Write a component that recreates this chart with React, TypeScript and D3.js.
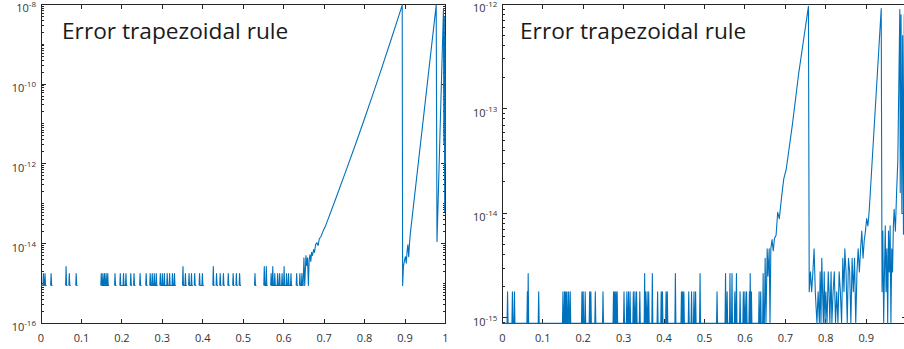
import React from 'react';
import * as d3 from 'd3';

// ---------- data ----------
const TITLE = 'Error trapezoidal rule';
const X_TICKS = [0, 0.1, 0.2, 0.3, 0.4, 0.5, 0.6, 0.7, 0.8, 0.9, 1];
const X_TICK_LABELS = ['0', '0.1', '0.2', '0.3', '0.4', '0.5', '0.6', '0.7', '0.8', '0.9', '1'];
const LEFT_Y_DOMAIN = [1e-16, 1e-8];
const RIGHT_Y_DOMAIN = [8.88e-16, 1e-12];
const LEFT_Y_LABEL_EXPS = [-8, -10, -12, -14, -16];
const RIGHT_Y_LABEL_EXPS = [-12, -13, -14, -15];

// log10 of the error level at the rounding floor
const FLOOR_EXP = -15.0516;

// left panel: noise spikes (x, log10 error)
const LEFT_SPIKE_X = [0.006, 0.010, 0.025, 0.062, 0.070, 0.087, 0.149, 0.153, 0.157, 0.161, 0.165, 0.183, 0.196, 0.204, 0.210, 0.222, 0.230, 0.245, 0.260, 0.270, 0.275, 0.280, 0.285, 0.295, 0.300, 0.305, 0.312, 0.318, 0.325, 0.330, 0.351, 0.357, 0.366, 0.372, 0.380, 0.392, 0.399, 0.426, 0.434, 0.443, 0.451, 0.463, 0.475, 0.483, 0.491, 0.529, 0.552, 0.557, 0.569, 0.573, 0.578, 0.585, 0.590, 0.596, 0.601, 0.607, 0.612, 0.618, 0.632, 0.640, 0.645];
const LEFT_SPIKE_EXP = [-14.75, -14.75, -14.75, -14.575, -14.75, -14.75, -14.75, -14.75, -14.75, -14.75, -14.75, -14.75, -14.75, -14.75, -14.75, -14.75, -14.75, -14.75, -14.75, -14.75, -14.75, -14.75, -14.75, -14.75, -14.75, -14.75, -14.75, -14.75, -14.75, -14.75, -14.575, -14.75, -14.75, -14.75, -14.75, -14.75, -14.75, -14.575, -14.75, -14.75, -14.75, -14.75, -14.75, -14.75, -14.75, -14.75, -14.575, -14.575, -14.75, -14.575, -14.75, -14.75, -14.75, -14.75, -14.575, -14.75, -14.75, -14.75, -14.75, -14.75, -14.75];
// left panel: growing part
const LEFT_CURVE_X = [0.648, 0.650, 0.652, 0.655, 0.657, 0.659, 0.661, 0.663, 0.665, 0.667, 0.669, 0.671, 0.674, 0.676, 0.679, 0.682, 0.685, 0.688, 0.692, 0.696, 0.700, 0.703, 0.730, 0.757, 0.780, 0.798, 0.820, 0.839, 0.866, 0.893, 0.894, 0.896, 0.899, 0.901, 0.903, 0.905, 0.907, 0.909, 0.911, 0.913, 0.977, 0.979, 0.995, 0.996, 0.997, 0.998, 0.999, 1.0];
const LEFT_CURVE_EXP = [-15.0516, -14.36, -15.0516, -14.30, -14.55, -14.36, -15.0516, -14.40, -14.28, -14.45, -14.22, -14.30, -14.15, -14.22, -14.02, -13.98, -14.05, -13.88, -13.83, -13.72, -13.63, -13.57, -12.84, -12.09, -11.44, -10.92, -10.27, -9.70, -8.87, -8.02, -15.0516, -14.58, -14.40, -14.33, -14.49, -14.20, -14.03, -14.33, -14.0, -13.75, -8.02, -13.95, -8.1, -11.5, -8.3, -13.2, -8.8, -12.0];

// right panel: noise spikes
const RIGHT_SPIKE_X = [0.013, 0.025, 0.030, 0.062, 0.064, 0.090, 0.150, 0.154, 0.157, 0.160, 0.164, 0.168, 0.197, 0.200, 0.205, 0.216, 0.219, 0.230, 0.249, 0.275, 0.278, 0.281, 0.284, 0.301, 0.308, 0.312, 0.316, 0.324, 0.328, 0.332, 0.340, 0.352, 0.354, 0.358, 0.362, 0.371, 0.384, 0.393, 0.396, 0.405, 0.408, 0.428, 0.443, 0.446, 0.449, 0.461, 0.468, 0.474, 0.478, 0.489, 0.531, 0.552, 0.556, 0.563, 0.568, 0.575, 0.579, 0.588, 0.596, 0.600, 0.604, 0.611, 0.613, 0.616, 0.635, 0.639, 0.645];
const RIGHT_SPIKE_EXP = [-14.75, -14.75, -14.75, -14.75, -14.575, -14.75, -14.75, -14.75, -14.75, -14.75, -14.75, -14.75, -14.75, -14.75, -14.75, -14.75, -14.75, -14.75, -14.75, -14.75, -14.75, -14.75, -14.75, -14.75, -14.75, -14.75, -14.75, -14.75, -14.75, -14.75, -14.75, -14.575, -14.75, -14.75, -14.75, -14.575, -14.75, -14.75, -14.75, -14.75, -14.75, -14.575, -14.75, -14.75, -14.75, -14.75, -14.75, -14.75, -14.75, -14.575, -14.75, -14.575, -14.75, -14.575, -14.575, -14.75, -14.575, -14.75, -14.75, -14.75, -14.75, -14.75, -14.575, -14.75, -14.75, -14.75, -14.575];
// right panel: growing parts and noisy tail
const RIGHT_CURVE_X = [0.648, 0.650, 0.652, 0.655, 0.657, 0.660, 0.662, 0.664, 0.667, 0.670, 0.673, 0.677, 0.681, 0.685, 0.691, 0.696, 0.702, 0.717, 0.733, 0.757, 0.759, 0.762, 0.765, 0.768, 0.771, 0.774, 0.778, 0.781, 0.784, 0.786, 0.788, 0.790, 0.792, 0.794, 0.796, 0.798, 0.800, 0.803, 0.806, 0.808, 0.810, 0.813, 0.815, 0.818, 0.821, 0.824, 0.827, 0.830, 0.833, 0.836, 0.839, 0.842, 0.845, 0.847, 0.850, 0.853, 0.856, 0.859, 0.862, 0.865, 0.868, 0.871, 0.874, 0.877, 0.880, 0.883, 0.886, 0.889, 0.892, 0.895, 0.898, 0.901, 0.904, 0.907, 0.910, 0.937, 0.939, 0.941, 0.943, 0.945, 0.947, 0.949, 0.951, 0.953, 0.955, 0.957, 0.959, 0.961, 0.963, 0.965, 0.967, 0.969, 0.972, 0.975, 0.978, 0.983, 0.984, 0.986, 0.988, 0.990, 0.992, 0.994, 0.996, 0.998, 1.0];
const RIGHT_CURVE_EXP = [-15.0516, -14.43, -15.0516, -14.34, -14.60, -14.34, -15.0516, -14.34, -14.25, -14.36, -14.24, -14.21, -13.99, -14.05, -13.83, -13.67, -13.58, -13.16, -12.66, -12.02, -14.75, -14.56, -14.75, -14.56, -14.34, -14.75, -15.0516, -14.75, -15.0516, -14.56, -15.0516, -14.43, -14.75, -15.0516, -14.56, -15.0516, -14.75, -15.0516, -14.56, -14.75, -15.0516, -14.56, -15.0516, -14.75, -14.56, -15.0516, -14.75, -15.0516, -14.56, -14.75, -15.0516, -14.43, -14.75, -14.34, -14.56, -15.0516, -14.43, -14.56, -15.0516, -14.43, -14.75, -14.43, -15.0516, -14.56, -14.34, -14.56, -14.34, -14.17, -14.43, -14.26, -14.17, -14.05, -14.12, -13.99, -13.80, -12.04, -14.75, -14.17, -15.0516, -14.56, -14.12, -14.75, -14.34, -15.0516, -14.17, -14.56, -14.12, -15.0516, -14.34, -14.56, -14.12, -13.96, -14.17, -13.8, -13.5, -12.05, -13.8, -12.1, -14.0, -12.3, -14.2, -12.1, -13.9, -12.2, -13.5];

// ---------- helpers ----------
type Pt = [number, number];

// NaN entries mark gaps (samples where the error is exactly zero and vanish on a log axis)
function buildSeries(spikeX: number[], spikeExp: number[], curveX: number[], curveExp: number[], gaps: boolean): Pt[] {
  const pts: Pt[] = [[0, FLOOR_EXP]];
  spikeX.forEach((sx, i) => {
    pts.push([sx - 0.0012, FLOOR_EXP]);
    pts.push([sx, spikeExp[i]]);
    pts.push([sx + 0.0012, FLOOR_EXP]);
    const next = i + 1 < spikeX.length ? spikeX[i + 1] : curveX[0];
    if (gaps && next - sx > 0.008) {
      pts.push([sx + 0.0035, FLOOR_EXP]);
      pts.push([sx + 0.0036, NaN]);
    }
  });
  curveX.forEach((cx, i) => pts.push([cx, curveExp[i]]));
  pts.sort((a, b) => a[0] - b[0]);
  return pts.map(([px, e]) => [px, Math.pow(10, e)] as Pt);
}

const AXIS_COLOR = '#262626';
const LINE_COLOR = '#0072BD';
const FONT = "'Open Sans', 'Noto Sans', sans-serif";

type PanelProps = {
  id: string;
  x0: number;
  x1: number;
  yTop: number;
  yBot: number;
  domain: number[];
  labelExps: number[];
  data: Pt[];
  titleX: number;
  showLastXLabel: boolean;
};

function Panel({ id, x0, x1, yTop, yBot, domain, labelExps, data, titleX, showLastXLabel }: PanelProps) {
  const x = d3.scaleLinear().domain([0, 1]).range([x0, x1]);
  const y = d3.scaleLog().domain(domain).range([yBot, yTop]);
  const line = d3
    .line<Pt>()
    .defined(d => Number.isFinite(d[1]))
    .x(d => x(d[0]))
    .y(d => y(d[1]));

  const minor: number[] = [];
  const eLo = Math.floor(Math.log10(domain[0]));
  const eHi = Math.ceil(Math.log10(domain[1]));
  for (let e = eLo; e <= eHi; e++) {
    for (let k = 1; k <= 9; k++) {
      const v = k * Math.pow(10, e);
      if (v < domain[0] * 0.9999 || v > domain[1] * 1.0001) continue;
      if (k === 1 && labelExps.includes(e)) continue;
      minor.push(v);
    }
  }
  const MAJ = 4.5;
  const MIN = 2.5;

  return (
    <g>
      <defs>
        <clipPath id={id}>
          <rect x={x0 - 1} y={yTop - 1} width={x1 - x0 + 2} height={yBot - yTop + 2} />
        </clipPath>
      </defs>
      {/* axes box */}
      <g stroke={AXIS_COLOR} strokeWidth={1} fill="none" shapeRendering="crispEdges">
        <rect x={x0} y={yTop} width={x1 - x0} height={yBot - yTop} />
        {X_TICKS.map(t => (
          <g key={'xt' + t}>
            <line x1={x(t)} x2={x(t)} y1={yBot} y2={yBot - MAJ} />
            <line x1={x(t)} x2={x(t)} y1={yTop} y2={yTop + MAJ} />
          </g>
        ))}
        {labelExps.map(e => (
          <g key={'yt' + e}>
            <line x1={x0} x2={x0 + MAJ} y1={y(Math.pow(10, e))} y2={y(Math.pow(10, e))} />
            <line x1={x1} x2={x1 - MAJ} y1={y(Math.pow(10, e))} y2={y(Math.pow(10, e))} />
          </g>
        ))}
        {minor.map(v => (
          <g key={'ym' + v}>
            <line x1={x0} x2={x0 + MIN} y1={y(v)} y2={y(v)} />
            <line x1={x1} x2={x1 - MIN} y1={y(v)} y2={y(v)} />
          </g>
        ))}
      </g>
      {/* data */}
      <path d={line(data) || ''} fill="none" stroke={LINE_COLOR} strokeWidth={1.1} strokeLinejoin="round" clipPath={`url(#${id})`} />
      {/* tick labels */}
      <g fill="#333" fontFamily={FONT} fontSize={11}>
        {X_TICKS.map((t, i) =>
          i === X_TICKS.length - 1 && !showLastXLabel ? null : (
            <text key={'xl' + t} x={x(t)} y={yBot + 18.5} textAnchor="middle">{X_TICK_LABELS[i]}</text>
          )
        )}
        {labelExps.map(e => (
          <text key={'yl' + e} x={x0 - 5} y={y(Math.pow(10, e)) + 8} textAnchor="end">
            10<tspan fontSize={8} dy={-5}>{String(e)}</tspan>
          </text>
        ))}
      </g>
      <text x={titleX} y={39} fontFamily={FONT} fontSize={22.7} fill="#1a1a1a">{TITLE}</text>
    </g>
  );
}

export default function App() {
  const leftData = buildSeries(LEFT_SPIKE_X, LEFT_SPIKE_EXP, LEFT_CURVE_X, LEFT_CURVE_EXP, true);
  const rightData = buildSeries(RIGHT_SPIKE_X, RIGHT_SPIKE_EXP, RIGHT_CURVE_X, RIGHT_CURVE_EXP, false);
  return (
    <svg width={904} height={349} style={{ position: 'absolute', left: 0, top: 0, background: '#fff' }}>
      <rect width={904} height={349} fill="#fff" />
      <Panel id="clipL" x0={41} x1={445.5} yTop={4.3} yBot={323.3} domain={LEFT_Y_DOMAIN} labelExps={LEFT_Y_LABEL_EXPS} data={leftData} titleX={62} showLastXLabel={true} />
      <Panel id="clipR" x0={502.3} x1={906.7} yTop={4.3} yBot={323.3} domain={RIGHT_Y_DOMAIN} labelExps={RIGHT_Y_LABEL_EXPS} data={rightData} titleX={520} showLastXLabel={false} />
    </svg>
  );
}
